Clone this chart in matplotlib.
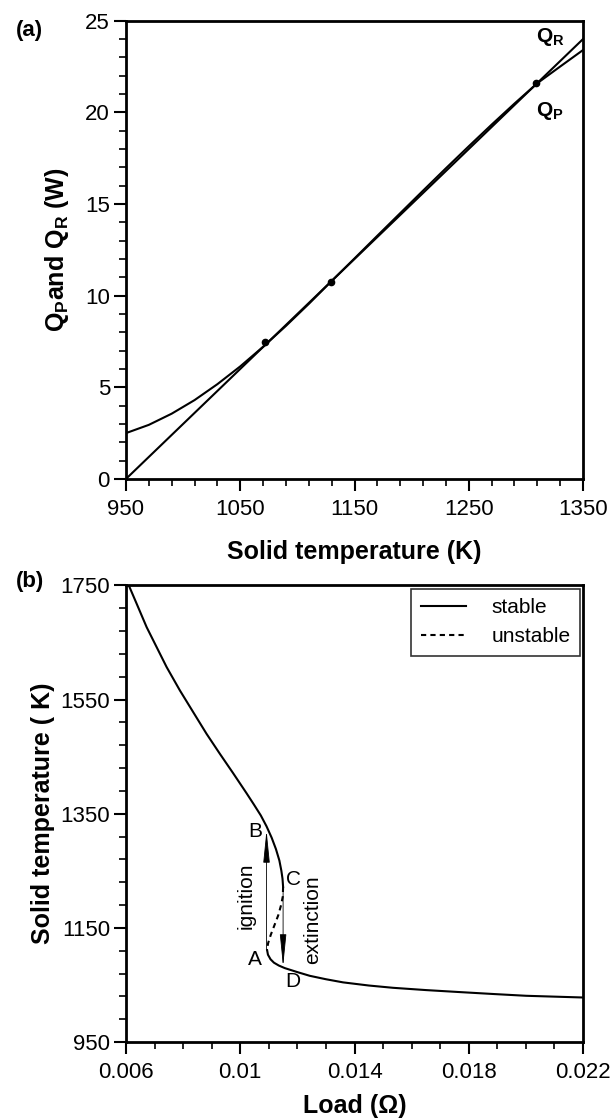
import matplotlib
matplotlib.use('Agg')
import matplotlib.pyplot as plt

# panel (a): heat production / removal vs solid temperature
temp_a = [950, 970, 990, 1010, 1030, 1050, 1070, 1090, 1110, 1130, 1150,
          1170, 1190, 1210, 1230, 1250, 1270, 1290, 1310, 1330, 1350]
q_p = [2.50, 2.95, 3.56, 4.30, 5.17, 6.14, 7.21, 8.35, 9.55, 10.80, 12.03,
       13.27, 14.50, 15.73, 16.95, 18.15, 19.33, 20.48, 21.59, 22.50, 23.40]
temp_r = [950, 1350]
q_r = [0.0, 24.0]
cross_t = [1072, 1129, 1309]
cross_q = [7.45, 10.75, 21.6]

# panel (b): solid temperature vs load
load_hi = [0.0061, 0.006374, 0.006723, 0.007073, 0.007423, 0.007888, 0.008354,
           0.008821, 0.009287, 0.009752, 0.01022, 0.01048, 0.01072, 0.01092,
           0.01110, 0.01125, 0.01137, 0.01144, 0.01148, 0.0115]
temp_hi = [1750, 1718, 1677, 1642, 1607, 1566, 1528, 1490, 1455, 1421, 1386,
           1366, 1347, 1328, 1308, 1288, 1268, 1250, 1236, 1222]
load_un = [0.0115, 0.01149, 0.01143, 0.01133, 0.01120, 0.01107, 0.01098,
           0.01094, 0.01094]
temp_un = [1222, 1205, 1190, 1172, 1155, 1138, 1124, 1114, 1111]
load_lo = [0.01094, 0.01097, 0.01106, 0.01118, 0.01135, 0.01156, 0.0120, 0.012434,
           0.013, 0.0136, 0.0145, 0.015346, 0.0165, 0.01768, 0.0189, 0.02001,
           0.021, 0.022]
temp_lo = [1111, 1103, 1095, 1089, 1084, 1079.5, 1072.5, 1066, 1060, 1054.5,
           1049, 1045, 1041, 1037.5, 1034, 1031, 1029.5, 1028]

x_ticks_b = [0.006, 0.01, 0.014, 0.018, 0.022]
x_ticklabels_b = ['0.006', '0.01', '0.014', '0.018', '0.022']

plt.rcParams['font.family'] = ['Liberation Sans', 'DejaVu Sans']
plt.rcParams['mathtext.fontset'] = 'custom'
plt.rcParams['mathtext.bf'] = 'Liberation Sans:bold'
plt.rcParams['mathtext.rm'] = 'Liberation Sans'

fig = plt.figure(figsize=(6.16, 11.19), dpi=100)
ax1 = fig.add_axes([0.2045, 0.572, 0.742, 0.4095])
ax2 = fig.add_axes([0.2045, 0.0688, 0.742, 0.408])

lw = 1.5
ax1.plot(temp_a, q_p, color='k', lw=lw)
ax1.plot(temp_r, q_r, color='k', lw=lw)
ax1.plot(cross_t, cross_q, 'o', color='k', ms=4.5)
ax1.set_xlim(950, 1350)
ax1.set_ylim(0, 25)
ax1.set_xticks(range(950, 1351, 100))
ax1.set_xticks(range(950, 1351, 20), minor=True)
ax1.set_yticks(range(0, 26, 5))
ax1.set_yticks(range(0, 26, 1), minor=True)
ax1.set_xlabel('Solid temperature (K)', fontsize=18, fontweight='bold', labelpad=14)
ax1.set_ylabel(r'$\mathbf{Q_P}$and $\mathbf{Q_R}$ (W)', fontsize=18,
               fontweight='bold', labelpad=10)
ax1.text(1321, 24.1, r'$\mathbf{Q_R}$', fontsize=15, ha='center', va='center')
ax1.text(1321, 20.1, r'$\mathbf{Q_P}$', fontsize=15, ha='center', va='center')
fig.text(0.026, 0.973, '(a)', fontsize=16, fontweight='bold', ha='left', va='center')

ax2.plot(load_hi, temp_hi, color='k', lw=lw, label='stable')
ax2.plot(load_un, temp_un, color='k', lw=lw, ls=(0, (2.5, 2)), label='unstable')
ax2.plot(load_lo, temp_lo, color='k', lw=lw)
ax2.set_xlim(0.006, 0.022)
ax2.set_ylim(950, 1750)
ax2.set_xticks(x_ticks_b)
ax2.set_xticklabels(x_ticklabels_b)
ax2.set_xticks([0.006 + 0.001 * i for i in range(17)], minor=True)
ax2.set_yticks(range(950, 1751, 200))
ax2.set_yticks(range(950, 1751, 40), minor=True)
ax2.set_xlabel('Load (Ω)', fontsize=18, fontweight='bold', labelpad=8)
ax2.set_ylabel('Solid temperature ( K)', fontsize=18, fontweight='bold', labelpad=4)
fig.text(0.026, 0.480, '(b)', fontsize=16, fontweight='bold', ha='left', va='center')

arr = dict(arrowstyle='-|>,head_length=2.0,head_width=0.2', lw=0.6, color='k',
           mutation_scale=10, shrinkA=0, shrinkB=0)
ax2.annotate('', xy=(0.01092, 1321), xytext=(0.01092, 1111), arrowprops=arr)
ax2.annotate('', xy=(0.0115, 1082), xytext=(0.0115, 1222), arrowprops=arr)
for lab, lx, ly in [('B', 0.01051, 1318), ('C', 0.01185, 1234),
                    ('A', 0.01051, 1094), ('D', 0.01185, 1056)]:
    ax2.text(lx, ly, lab, fontsize=15, ha='center', va='center')
ax2.text(0.0102, 1207, 'ignition', fontsize=15, rotation=90, ha='center', va='center')
ax2.text(0.01255, 1164, 'extinction', fontsize=15, rotation=90, ha='center', va='center')

leg = ax2.legend(loc='upper right', fontsize=15, frameon=True, fancybox=False,
                 handlelength=2.2, handletextpad=1.2, borderpad=0.45,
                 labelspacing=0.5, borderaxespad=0.15)
leg.get_frame().set_edgecolor('k')
leg.get_frame().set_linewidth(1.2)

for ax in (ax1, ax2):
    for sp in ax.spines.values():
        sp.set_linewidth(2.0)
    ax.tick_params(which='major', direction='out', length=8.5, width=1.5,
                   labelsize=16)
    ax.tick_params(which='minor', direction='out', length=5, width=1.2)
    ax.tick_params(axis='x', which='major', pad=6)
    ax.tick_params(axis='y', which='major', pad=3)

fig.savefig('out.png', dpi=100)
